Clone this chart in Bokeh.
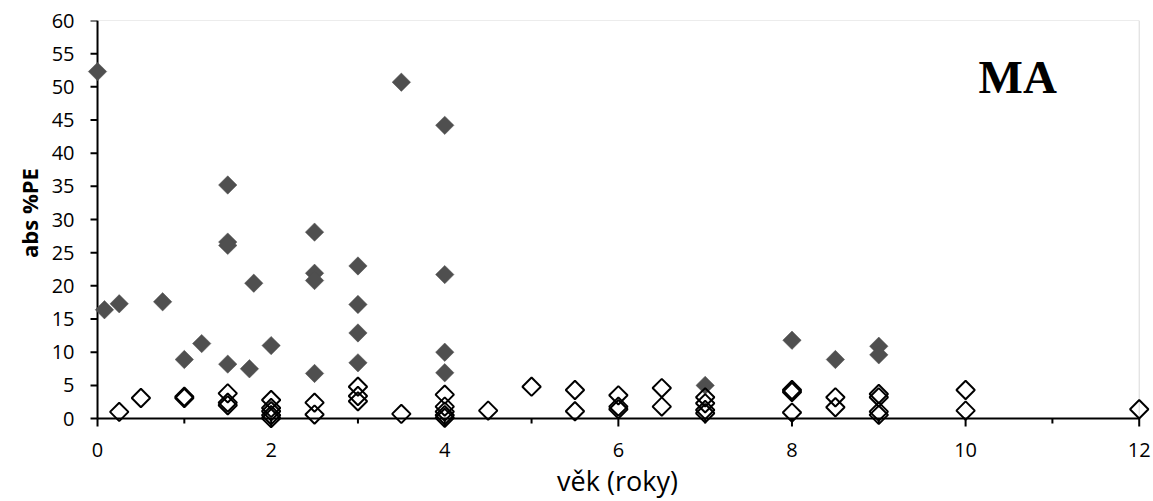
import numpy as np
from bokeh.plotting import figure
from bokeh.models import ColumnDataSource, Label, FixedTicker, Range1d, LinearAxis
from bokeh.embed import file_html
from bokeh.resources import INLINE

# Age (years) and absolute %PE, two groups
dark_age = [0, 0.08, 0.25, 0.75, 1, 1.2, 1.5, 1.5, 1.5, 1.5, 1.75, 1.8, 2,
            2.5, 2.5, 2.5, 2.5, 3, 3, 3, 3, 3.5, 4, 4, 4, 4, 7, 8, 8.5, 9, 9]
dark_pe = [52.3, 16.4, 17.3, 17.6, 8.9, 11.3, 35.2, 26.6, 26.1, 8.2, 7.5, 20.4, 11.0,
           28.1, 21.9, 20.8, 6.8, 23.0, 17.2, 12.9, 8.4, 50.7, 44.2, 21.7, 10.0, 6.9,
           5.0, 11.8, 8.9, 10.9, 9.6]

light_age = [0.25, 0.5, 1, 1, 1.5, 1.5, 1.5, 2, 2, 2, 2, 2, 2.5, 2.5,
             3, 3, 3, 3.5, 4, 4, 4, 4, 4, 4.5, 5, 5.5, 5.5, 6, 6, 6,
             6.5, 6.5, 7, 7, 7, 7, 8, 8, 8, 8.5, 8.5, 9, 9, 9, 9, 10, 10, 12]
light_pe = [1.0, 3.1, 3.3, 3.1, 3.8, 2.4, 2.0, 2.8, 1.6, 1.1, 0.5, 0.05, 2.4, 0.6,
            4.8, 3.4, 2.6, 0.7, 3.6, 1.8, 1.05, 0.5, 0.1, 1.2, 4.8, 4.3, 1.1, 3.5, 1.8, 1.4,
            4.6, 1.8, 3.2, 2.3, 1.3, 0.8, 4.3, 4.0, 0.9, 3.2, 1.7, 3.7, 3.2, 1.05, 0.55, 4.3, 1.2, 1.4]

x_ticks = [0, 2, 4, 6, 8, 10, 12]
x_minor = [1, 3, 5, 7, 9, 11]
y_ticks = list(range(0, 61, 5))

X_MIN, X_MAX = 0, 12
Y_MIN, Y_MAX = 0, 60
# room around the axes so markers sitting on them are drawn whole
X_PAD_L, X_PAD_R, Y_PAD_B = 0.15, 0.13, 1.5

# pixel size of one data unit inside the plotting area
UNIT_X = (1139 - 97) / (X_MAX - X_MIN)
UNIT_Y = (418 - 20) / (Y_MAX - Y_MIN)

p = figure(width=1153, height=501, output_backend="svg", toolbar_location=None,
           x_range=Range1d(X_MIN - X_PAD_L, X_MAX + X_PAD_R),
           y_range=Range1d(Y_MIN - Y_PAD_B, Y_MAX),
           x_axis_location=None, y_axis_location=None,
           min_border_left=int(round(97 - X_PAD_L * UNIT_X)),
           min_border_right=int(round(1153 - 1139 - X_PAD_R * UNIT_X)),
           min_border_top=20,
           min_border_bottom=int(round(501 - 418 - Y_PAD_B * UNIT_Y)))
p.background_fill_color = "white"
p.border_fill_color = "white"
p.outline_line_color = None
p.grid.visible = False

tick_font = "Open Sans"

# --- tick labels and titles (axes on the panel edges carry only text) ---
xaxis = LinearAxis(ticker=FixedTicker(ticks=x_ticks, minor_ticks=[]))
yaxis = LinearAxis(ticker=FixedTicker(ticks=y_ticks, minor_ticks=[]))
for ax in (xaxis, yaxis):
    ax.axis_line_color = None
    ax.major_tick_line_color = None
    ax.minor_tick_line_color = None
    ax.major_tick_in = 0
    ax.major_tick_out = 0
    ax.minor_tick_in = 0
    ax.minor_tick_out = 0
    ax.major_label_text_font = tick_font
    ax.major_label_text_font_size = "20px"
    ax.major_label_text_color = "black"
    ax.axis_label_text_font = tick_font
    ax.axis_label_text_color = "black"

xaxis.major_label_standoff = 14
xaxis.axis_label = "věk (roky)"
xaxis.axis_label_text_font_style = "normal"
xaxis.axis_label_text_font_size = "27px"
xaxis.axis_label_standoff = 2

yaxis.major_label_standoff = 10
# leading no-break spaces lift the title to the middle of the 0-60 span
yaxis.axis_label = "\u00a0\u00a0\u00a0\u00a0abs %PE"
yaxis.axis_label_text_font_style = "bold"
yaxis.axis_label_text_font_size = "22px"
yaxis.axis_label_standoff = 5

p.add_layout(xaxis, "below")
p.add_layout(yaxis, "left")

# --- light frame on top and right ---
p.segment(x0=[X_MIN, X_MAX], y0=[Y_MAX, Y_MIN], x1=[X_MAX, X_MAX], y1=[Y_MAX, Y_MAX],
          line_color="#d9d9d9", line_width=1)

# --- axis lines and tick marks at zero ---
ax_kw = dict(line_color="black", line_width=2, line_cap="butt")
p.segment(x0=[X_MIN, X_MIN], y0=[Y_MIN, Y_MIN], x1=[X_MAX, X_MIN], y1=[Y_MIN, Y_MAX], **ax_kw)
p.segment(x0=x_ticks, y0=[Y_MIN] * len(x_ticks), x1=x_ticks,
          y1=[Y_MIN - 8 / UNIT_Y] * len(x_ticks), **ax_kw)
p.segment(x0=x_minor, y0=[Y_MIN] * len(x_minor), x1=x_minor,
          y1=[Y_MIN - 5 / UNIT_Y] * len(x_minor), **ax_kw)
p.segment(x0=[X_MIN] * len(y_ticks), y0=y_ticks, x1=[X_MIN - 7 / UNIT_X] * len(y_ticks),
          y1=y_ticks, **ax_kw)

# --- data ---
dark_src = ColumnDataSource(dict(x=dark_age, y=dark_pe))
light_src = ColumnDataSource(dict(x=light_age, y=light_pe))

p.scatter("x", "y", source=dark_src, marker="square", size=13, angle=np.pi / 4,
          fill_color="#4f4f4f", line_color="#4f4f4f", line_width=0.5)
p.scatter("x", "y", source=light_src, marker="square", size=13, angle=np.pi / 4,
          fill_color="white", fill_alpha=0.0, line_color="black", line_width=2)

p.add_layout(Label(x=10.15, y=51.5, text="MA", text_font="Liberation Serif",
                   text_font_style="bold", text_font_size="47px", text_color="black",
                   text_baseline="alphabetic"))

open("out.html", "w").write(file_html(p, INLINE))
